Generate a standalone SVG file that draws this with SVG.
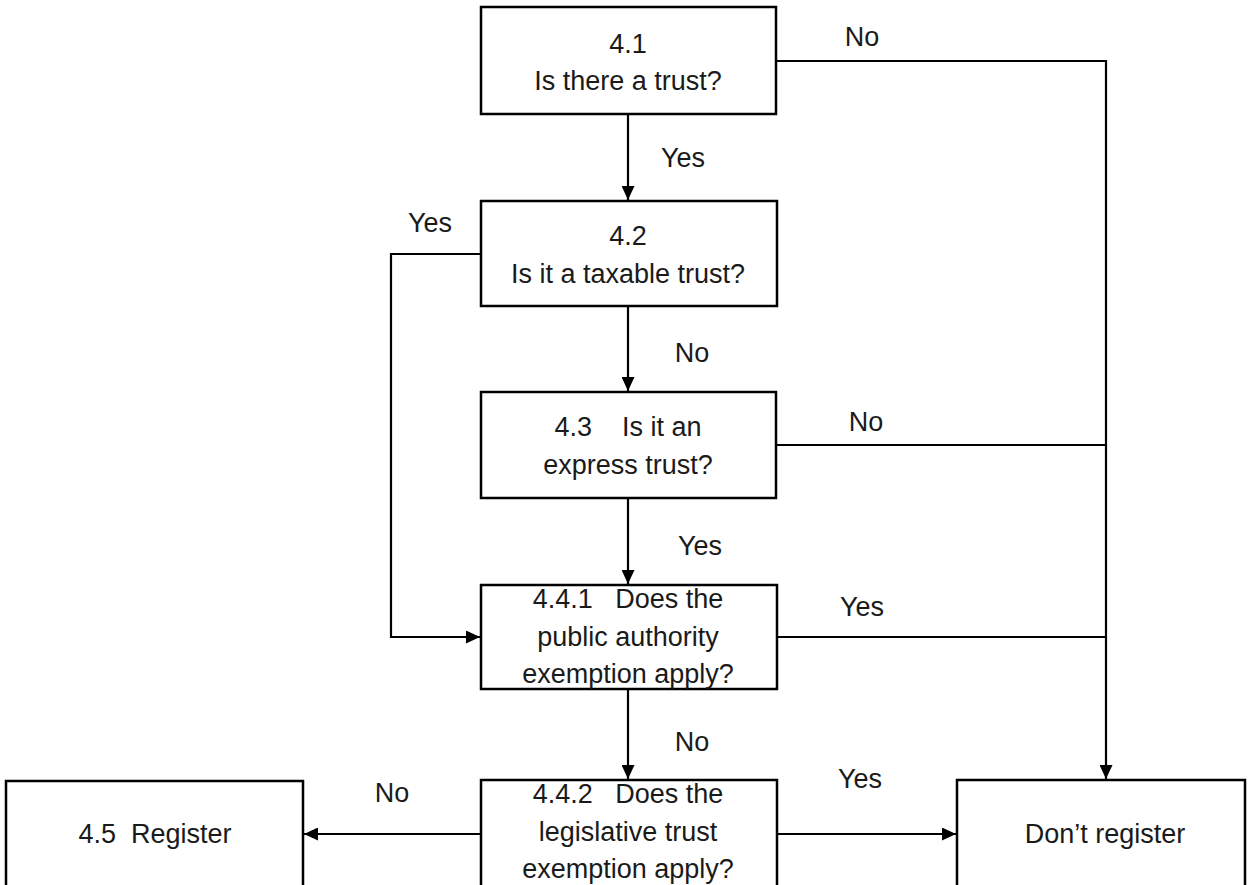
<svg xmlns="http://www.w3.org/2000/svg" width="1250" height="885" viewBox="0 0 1250 885">
<style>
.box{fill:#fff;stroke:#000;stroke-width:2.5}
.t{font-family:"Liberation Sans",Arial,sans-serif;font-size:27px;fill:#1a1a1a;text-anchor:middle}
.lbl{font-family:"Liberation Sans",Arial,sans-serif;font-size:27px;fill:#1a1a1a;text-anchor:middle}
.c{fill:none;stroke:#000;stroke-width:2.2}
</style>
<defs>
<marker id="ah" viewBox="0 0 10 10" refX="10" refY="5" markerWidth="14" markerHeight="13" markerUnits="userSpaceOnUse" orient="auto" preserveAspectRatio="none">
<path d="M0,0 L10,5 L0,10 z" fill="#000"/>
</marker>
</defs>
<rect width="1250" height="885" fill="#fff"/>
<g id="connectors">
<path class="c" d="M628,114 V200" marker-end="url(#ah)"/>
<path class="c" d="M776,61 H1106 V779" marker-end="url(#ah)"/>
<path class="c" d="M481,254 H391 V637 H480" marker-end="url(#ah)"/>
<path class="c" d="M628,306 V391" marker-end="url(#ah)"/>
<path class="c" d="M776,445 H1106"/>
<path class="c" d="M628,498 V584" marker-end="url(#ah)"/>
<path class="c" d="M777,637 H1106"/>
<path class="c" d="M628,689 V779" marker-end="url(#ah)"/>
<path class="c" d="M481,834 H304" marker-end="url(#ah)"/>
<path class="c" d="M777,834 H956" marker-end="url(#ah)"/>
<text class="lbl" x="683" y="167">Yes</text>
<text class="lbl" x="862" y="46">No</text>
<text class="lbl" x="430" y="232">Yes</text>
<text class="lbl" x="692" y="362">No</text>
<text class="lbl" x="866" y="431">No</text>
<text class="lbl" x="700" y="555">Yes</text>
<text class="lbl" x="862" y="616">Yes</text>
<text class="lbl" x="692" y="751">No</text>
<text class="lbl" x="392" y="802">No</text>
<text class="lbl" x="860" y="788">Yes</text>
</g>
<g id="n41">
<rect class="box" x="481" y="7" width="295" height="107"/>
<text class="t" x="628" y="53">4.1</text>
<text class="t" x="628" y="90">Is there a trust?</text>
</g>
<g id="n42">
<rect class="box" x="481" y="201" width="296" height="105"/>
<text class="t" x="628" y="245">4.2</text>
<text class="t" x="628" y="283">Is it a taxable trust?</text>
</g>
<g id="n43">
<rect class="box" x="481" y="392" width="295" height="106"/>
<text class="t" x="628" y="436" xml:space="preserve">4.3    Is it an</text>
<text class="t" x="628" y="474">express trust?</text>
</g>
<g id="n441">
<rect class="box" x="481" y="585" width="296" height="104"/>
<text class="t" x="628" y="608" xml:space="preserve">4.4.1   Does the</text>
<text class="t" x="628" y="646">public authority</text>
<text class="t" x="628" y="683">exemption apply?</text>
</g>
<g id="n442">
<rect class="box" x="481" y="780" width="296" height="120"/>
<text class="t" x="628" y="803" xml:space="preserve">4.4.2   Does the</text>
<text class="t" x="628" y="841">legislative trust</text>
<text class="t" x="628" y="878">exemption apply?</text>
</g>
<g id="n45">
<rect class="box" x="6" y="781" width="297" height="120"/>
<text class="t" x="155" y="843" xml:space="preserve">4.5  Register</text>
</g>
<g id="ndont">
<rect class="box" x="957" y="780" width="288" height="120"/>
<text class="t" x="1105" y="843">Don’t register</text>
</g>
</svg>
